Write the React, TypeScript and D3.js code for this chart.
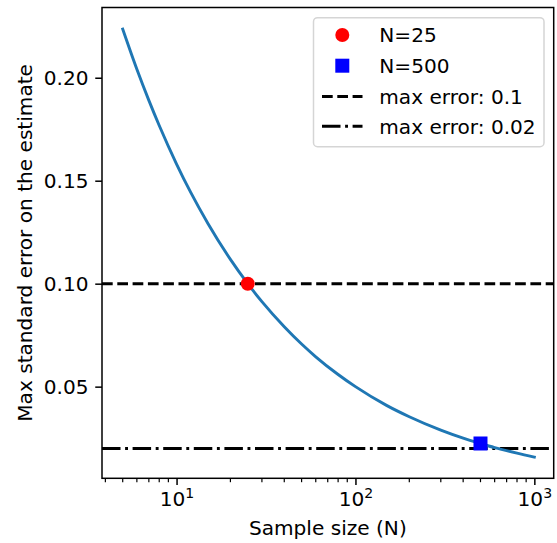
import React, { useEffect, useRef } from 'react';
import * as d3 from 'd3';

// curve (sample size -> max standard error)
const sampleSizes = [5, 6, 7, 8, 10, 12, 15, 20, 25, 30, 40, 50, 60, 80, 100, 150, 200, 300, 400, 500, 600, 800, 1000];
const maxErrors = [0.2236, 0.2041, 0.189, 0.1768, 0.1581, 0.1443, 0.1291, 0.1118, 0.1, 0.0913, 0.0791, 0.0707, 0.0645, 0.0559, 0.05, 0.0408, 0.0354, 0.0289, 0.025, 0.0224, 0.0204, 0.0177, 0.0158];

const markerN = [25, 500];
const markerErr = [0.1, 0.0224];
const markerLabels = ['N=25', 'N=500'];

const errorLevels = [0.1, 0.02];
const errorLabels = ['max error: 0.1', 'max error: 0.02'];

const yTicks = [0.05, 0.1, 0.15, 0.2];
const xMajor = [10, 100, 1000];

const FONT = 'DejaVu Sans, sans-serif';
const FS = 20.1;

const App = () => {
  const ref = useRef<SVGSVGElement>(null);

  useEffect(() => {
    const svg = d3.select(ref.current);
    svg.selectAll('*').remove();

    const width = 557;
    const height = 543;
    const margin = { top: 7.5, right: 3.3, bottom: 64.7, left: 102 };

    svg.attr('width', width).attr('height', height);

    const x = d3.scaleLog()
      .domain([3.83, 1283])
      .range([margin.left, width - margin.right]);

    const y = d3.scaleLinear()
      .domain([0.0055, 0.2341])
      .range([height - margin.bottom, margin.top]);

    const g = svg.append('g');

    // Horizontal max-error lines
    const dashes = ['10.7,4.6', '18.5,4.6,2.9,4.6'];
    errorLevels.forEach((lvl, i) => {
      g.append('line')
        .attr('x1', margin.left).attr('x2', width - margin.right)
        .attr('y1', y(lvl)).attr('y2', y(lvl))
        .attr('stroke', '#000')
        .attr('stroke-width', 2.9)
        .attr('stroke-dasharray', dashes[i]);
    });

    // Curve
    const line = d3.line<number>()
      .x((d, i) => x(sampleSizes[i]))
      .y(d => y(d))
      .curve(d3.curveMonotoneX);

    g.append('path')
      .datum(maxErrors)
      .attr('fill', 'none')
      .attr('stroke', '#1f77b4')
      .attr('stroke-width', 2.9)
      .attr('stroke-linecap', 'square')
      .attr('d', line);

    // Markers
    g.append('circle')
      .attr('cx', x(markerN[0]))
      .attr('cy', y(markerErr[0]))
      .attr('r', 7)
      .attr('fill', '#ff0000');

    g.append('rect')
      .attr('x', x(markerN[1]) - 7)
      .attr('y', y(markerErr[1]) - 7)
      .attr('width', 14)
      .attr('height', 14)
      .attr('fill', '#0000ff');

    // Axes
    const xAxis = g.append('g')
      .attr('transform', `translate(0, ${height - margin.bottom})`)
      .call(d3.axisBottom(x).tickValues(xMajor).tickSize(6.75).tickPadding(6.75).tickFormat(() => ''));

    const minor: number[] = [];
    [1, 10, 100].forEach(dec => {
      for (let k = 2; k <= 9; k++) minor.push(dec * k);
    });
    const minorTicks = minor.filter(v => v >= 3.83 && v <= 1283);

    xAxis.selectAll('.minor')
      .data(minorTicks)
      .enter()
      .append('line')
      .attr('x1', d => x(d)).attr('x2', d => x(d))
      .attr('y1', 0).attr('y2', 3.9)
      .attr('stroke', '#000')
      .attr('stroke-width', 1.2);

    xAxis.selectAll('.tick').each(function (d) {
      const t = d3.select(this);
      t.select('text').remove();
      const exp = Math.round(Math.log10(d as number));
      const txt = t.append('text')
        .attr('y', 28)
        .attr('text-anchor', 'middle')
        .attr('fill', '#000')
        .style('font-family', FONT)
        .style('font-size', `${FS}px`);
      txt.append('tspan').text('10');
      txt.append('tspan')
        .attr('dy', -7.8)
        .style('font-size', `${FS * 0.7}px`)
        .text(String(exp));
    });

    g.append('g')
      .attr('transform', `translate(${margin.left}, 0)`)
      .call(d3.axisLeft(y).tickValues(yTicks).tickSize(6.75).tickPadding(6.75).tickFormat(d3.format('.2f')));

    g.selectAll('.domain').remove();
    g.selectAll('.tick line').attr('stroke-width', 1.5);
    g.selectAll('.tick text')
      .style('font-family', FONT)
      .style('font-size', `${FS}px`);

    // Frame
    g.append('rect')
      .attr('x', margin.left)
      .attr('y', margin.top)
      .attr('width', width - margin.left - margin.right)
      .attr('height', height - margin.top - margin.bottom)
      .attr('fill', 'none')
      .attr('stroke', '#000')
      .attr('stroke-width', 1.5);

    // Axis Labels
    svg.append('text')
      .attr('x', (margin.left + width - margin.right) / 2)
      .attr('y', 535)
      .attr('text-anchor', 'middle')
      .style('font-family', FONT)
      .style('font-size', `${FS}px`)
      .text('Sample size (N)');

    svg.append('text')
      .attr('transform', 'rotate(-90)')
      .attr('x', -(margin.top + height - margin.bottom) / 2)
      .attr('y', 31.5)
      .attr('text-anchor', 'middle')
      .style('font-family', FONT)
      .style('font-size', `${FS}px`)
      .text('Max standard error on the estimate');

    // Legend
    const lg = svg.append('g');
    lg.append('rect')
      .attr('x', 313.5).attr('y', 17.7)
      .attr('width', 230.5).attr('height', 129)
      .attr('rx', 4)
      .attr('fill', 'rgba(255,255,255,0.8)')
      .attr('stroke', '#d5d5d5')
      .attr('stroke-width', 1.5);

    const rows = [35, 65.7, 96.5, 126.3];
    const labels = [...markerLabels, ...errorLabels];
    labels.forEach((lab, i) => {
      lg.append('text')
        .attr('x', 379.3)
        .attr('y', rows[i] + 7.3)
        .style('font-family', FONT)
        .style('font-size', `${FS}px`)
        .text(lab);
    });
    lg.append('circle').attr('cx', 342.3).attr('cy', rows[0]).attr('r', 7).attr('fill', '#ff0000');
    lg.append('rect').attr('x', 335.3).attr('y', rows[1] - 7).attr('width', 14).attr('height', 14).attr('fill', '#0000ff');
    errorLevels.forEach((_, i) => {
      lg.append('line')
        .attr('x1', 322).attr('x2', 362.5)
        .attr('y1', rows[2 + i]).attr('y2', rows[2 + i])
        .attr('stroke', '#000')
        .attr('stroke-width', 2.9)
        .attr('stroke-dasharray', dashes[i]);
    });
  }, []);

  return <svg ref={ref} style={{ position: 'absolute', left: 0, top: 0 }}></svg>;
};

export default App;
